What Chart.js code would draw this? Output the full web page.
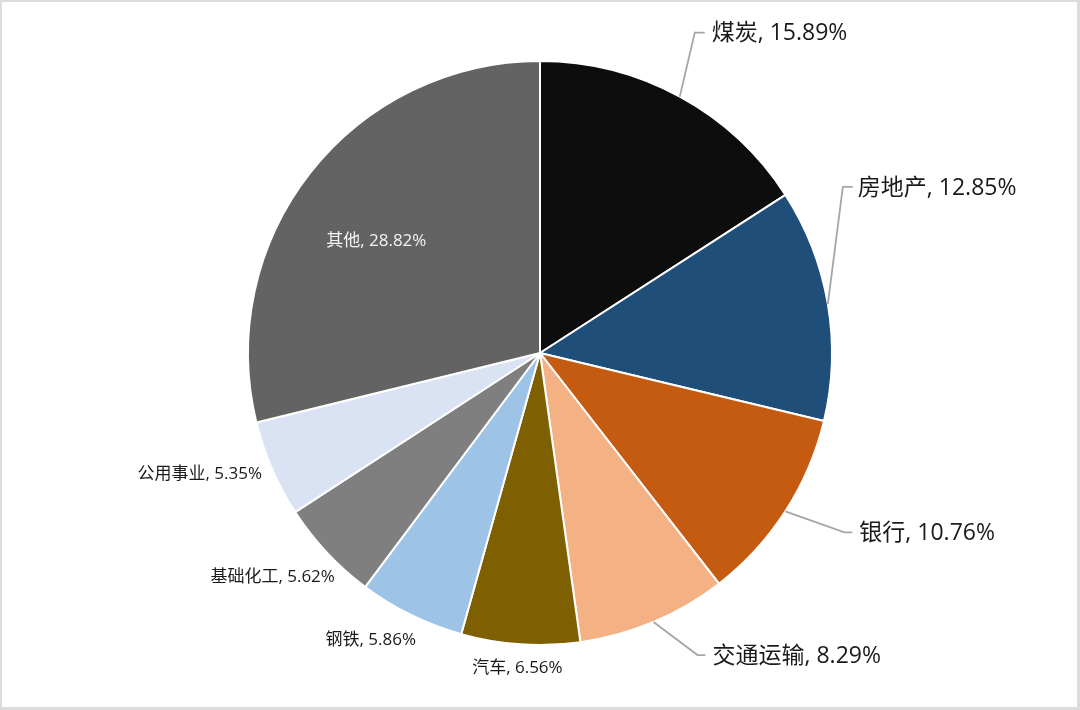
<!DOCTYPE html>
<html>
<head>
<meta charset="utf-8">
<script src="https://cdn.jsdelivr.net/npm/chart.js@4.4.1/dist/chart.umd.min.js"></script>
<style>
html,body{margin:0;padding:0;background:#fff;}
canvas{display:block;}
</style>
</head>
<body>
<canvas id="c" width="1080" height="710"></canvas>
<script>
const categories = ['煤炭','房地产','银行','交通运输','汽车','钢铁','基础化工','公用事业','其他'];
const values = [15.89, 12.85, 10.76, 8.29, 6.56, 5.86, 5.62, 5.35, 28.82];
const colors = ['#0d0d0d','#1f4e79','#c55a11','#f4b183','#7f6000','#9dc3e6','#7f7f7f','#dae3f3','#636363'];

const FONT = '"Open Sans","Noto Sans CJK SC","Noto Sans",sans-serif';
// label layout per slice: offset of text from the slice's outer mid point, optional leader elbow
const labelCfg = [
  {dx:32, dy:-64, align:'left', size:23, leader:[[15,-64],[25,-64]]},
  {dx:30, dy:-117, align:'left', size:23, leader:[[15,-117],[25,-117]]},
  {dx:74, dy:21, align:'left', size:23, leader:[[59,21],[67,21]]},
  {dx:59, dy:33, align:'left', size:23, leader:[[44,33],[52,33]]},
  {dx:-3, dy:23, align:'center', size:17},
  {dx:5, dy:24, align:'right', size:17},
  {dx:8, dy:24, align:'right', size:17},
  {dx:-10, dy:4, align:'right', size:17},
  {dx:66, dy:67, align:'center', size:17, color:'#f2f2f2'}
];

const framePlugin = {
  id:'frame',
  beforeDraw(chart){
    const ctx = chart.ctx;
    ctx.save();
    ctx.fillStyle = '#dcdcdc';
    ctx.fillRect(0,0,chart.width,chart.height);
    ctx.fillStyle = '#ffffff';
    ctx.fillRect(2,2,chart.width-5,chart.height-5);
    ctx.restore();
  }
};

const labelPlugin = {
  id:'sliceLabels',
  afterDatasetsDraw(chart){
    const ctx = chart.ctx;
    const meta = chart.getDatasetMeta(0);
    meta.data.forEach((arc, i) => {
      const cfg = labelCfg[i];
      const mid = (arc.startAngle + arc.endAngle) / 2;
      const ax = arc.x + Math.cos(mid) * arc.outerRadius;
      const ay = arc.y + Math.sin(mid) * arc.outerRadius;
      ctx.save();
      if (cfg.leader) {
        ctx.strokeStyle = '#a6a6a6';
        ctx.lineWidth = 1.8;
        ctx.beginPath();
        ctx.moveTo(ax, ay);
        cfg.leader.forEach(p => ctx.lineTo(ax + p[0], ay + p[1]));
        ctx.stroke();
      }
      ctx.font = cfg.size + 'px ' + FONT;
      ctx.fillStyle = cfg.color || '#1a1a1a';
      ctx.textAlign = cfg.align;
      ctx.textBaseline = 'middle';
      ctx.fillText(categories[i] + ', ' + values[i].toFixed(2) + '%', ax + cfg.dx, ay + cfg.dy + 1);
      ctx.restore();
    });
  }
};

new Chart(document.getElementById('c'), {
  type:'pie',
  data:{
    labels:categories,
    datasets:[{
      data:values,
      backgroundColor:colors,
      borderColor:'#ffffff',
      borderWidth:2,
      hoverBorderWidth:2,
      hoverOffset:0,
      offset:0
    }]
  },
  options:{
    responsive:false,
    animation:false,
    devicePixelRatio:1,
    layout:{padding:{top:60,bottom:64,left:0,right:0}},
    plugins:{legend:{display:false},tooltip:{enabled:false}},
    events:[]
  },
  plugins:[framePlugin,labelPlugin]
});
</script>
</body>
</html>
